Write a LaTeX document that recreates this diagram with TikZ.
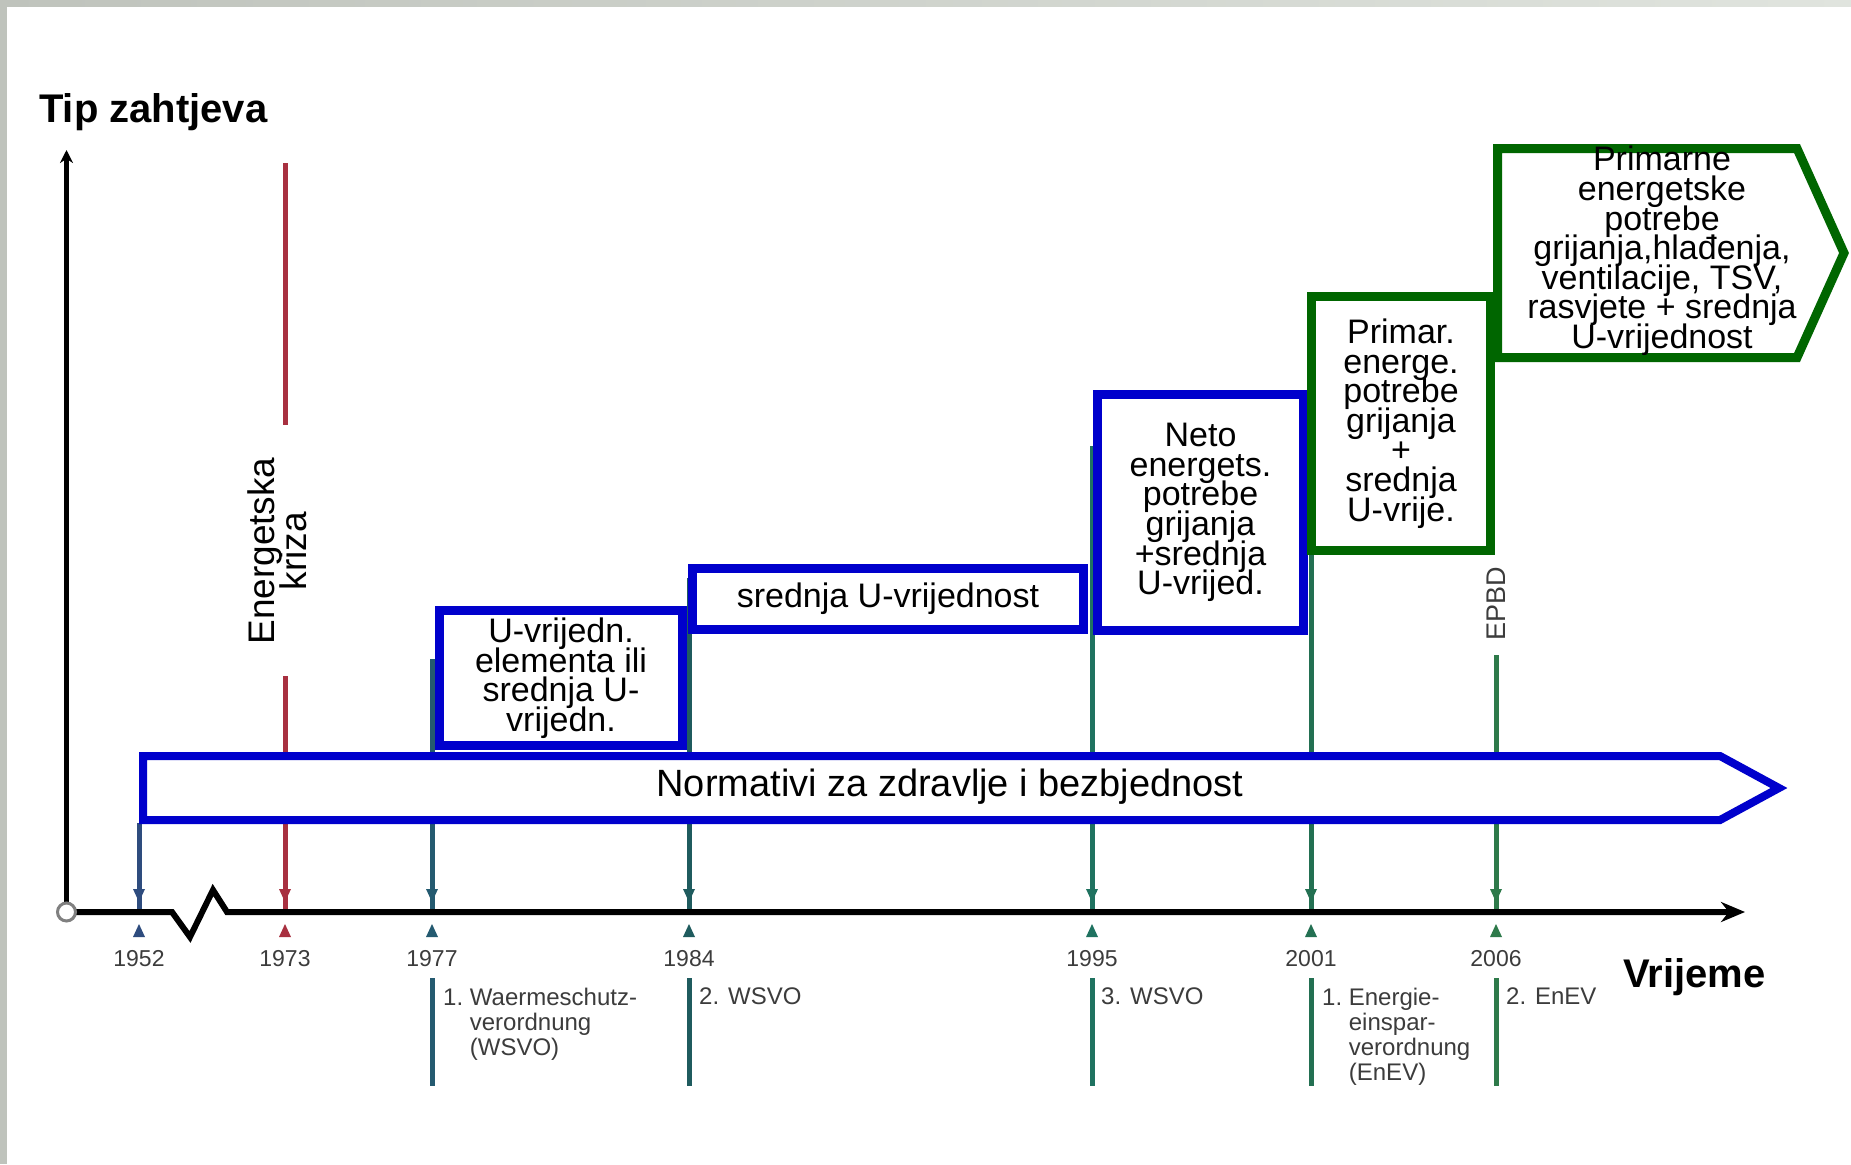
\documentclass[tikz,border=0pt]{standalone}
\usepackage{fontspec}
\setmainfont{Liberation Sans}
\usetikzlibrary{arrows.meta}
\definecolor{bblue}{HTML}{0000CC}
\definecolor{bgreen}{HTML}{006600}
\definecolor{labgray}{HTML}{3C3C3C}
\definecolor{framel}{HTML}{BFC3BC}
\definecolor{framer}{HTML}{E0E4DE}
\definecolor{c1952}{HTML}{2E4C7E}
\definecolor{c1973}{HTML}{A83040}
\definecolor{c1977}{HTML}{245A70}
\definecolor{c1984}{HTML}{1F5B5E}
\definecolor{c1995}{HTML}{1F7260}
\definecolor{c2001}{HTML}{237052}
\definecolor{c2006}{HTML}{2E7A4A}
\newcommand\mytightlines{\lineskiplimit -50pt\relax}
\newcommand\myboxfont{\fontsize{34}{29.6}\selectfont\mytightlines}
\begin{document}
\begin{tikzpicture}[x=1pt,y=-1pt,
  yrline/.style={line width=5pt},
  ybox/.style={draw=bblue, line width=9pt, fill=white, align=center, inner sep=0pt,
    font=\myboxfont},
  gbox/.style={ybox, draw=bgreen},
  boxtext/.style={align=center, inner sep=0pt, font=\myboxfont},
  yrlab/.style={font=\fontsize{23}{25}\selectfont, text=labgray, inner sep=0pt},
  desc/.style={font=\fontsize{24}{25}\selectfont, text=labgray, anchor=north west, inner sep=0pt},
  axislab/.style={font=\fontsize{40}{44}\selectfont\bfseries, anchor=base west, inner sep=0pt},
]
\useasboundingbox (0,0) rectangle (1851,1164);
\fill[white] (0,0) rectangle (1851,1164);
\shade[left color=framel, right color=framer] (0,0) rectangle (1851,7);
\fill[framel] (0,0) rectangle (7,1164);

% axis coordinates
\coordinate (orig) at (66.5,912);
\coordinate (ytop) at (66.5,150);
\coordinate (xend) at (1745,912);
\coordinate (t1952) at (139,912);
\coordinate (t1973) at (285,912);
\coordinate (t1977) at (432,912);
\coordinate (t1984) at (689,912);
\coordinate (t1995) at (1092,912);
\coordinate (t2001) at (1311,912);
\coordinate (t2006) at (1496,912);
\coordinate (u1952) at (139,823);
\coordinate (u1977) at (432,659);
\coordinate (u1984) at (689,578);
\coordinate (u1995) at (1092,446);
\coordinate (u2001) at (1311,550);
\coordinate (u2006) at (1496,655);
\coordinate (r1) at (285,163);
\coordinate (r2) at (285,425);
\coordinate (r3) at (285,676);

% year lines above the axis
\draw[yrline,c1952] (u1952) -- (t1952);
\draw[yrline,c1973] (r1) -- (r2);
\draw[yrline,c1973] (r3) -- (t1973);
\draw[yrline,c1977] (u1977) -- (t1977);
\draw[yrline,c1984] (u1984) -- (t1984);
\draw[yrline,c1995] (u1995) -- (t1995);
\draw[yrline,c2001] (u2001) -- (t2001);
\draw[yrline,c2006] (u2006) -- (t2006);

% year lines below the axis
\foreach \n in {1977,1984,1995,2001,2006}{
  \draw[yrline,c\n] ([shift={(0,66)}]t\n) -- ([shift={(0,174)}]t\n);
}

% band
\draw[bblue, line width=8pt, fill=white, line join=miter]
  (143,756) -- (1720,756) -- (1779,788) -- (1720,820) -- (143,820) -- cycle;
\node[boxtext, font=\fontsize{38}{40}\selectfont] (norm) at (950,787) {Normativi za zdravlje i bezbjednost};

% boxes
\node[ybox, minimum width=243pt, minimum height=135pt] (b1) at (561,678)
  {U-vrijedn.\\elementa ili\\srednja U-\\vrijedn.};
\node[ybox, minimum width=391pt, minimum height=61pt] (b2) at (888,599)
  {srednja U-vrijednost};
\node[ybox, minimum width=206pt, minimum height=236pt] (b3) at (1200.5,512.5)
  {Neto\\energets.\\potrebe\\grijanja\\+srednja\\U-vrijed.};
\node[gbox, minimum width=179pt, minimum height=254pt] (b4) at (1401,423.5)
  {Primar.\\energe.\\potrebe\\grijanja\\+\\srednja\\U-vrije.};

% green pentagon
\draw[bgreen, line width=9pt, fill=white, line join=miter]
  (1497.5,148.5) -- (1797,148.5) -- (1844,253) -- (1797,357.5) -- (1497.5,357.5) -- cycle;
\node[boxtext] (b5) at (1662,251)
  {Primarne\\energetske\\potrebe\\grijanja,hlađenja,\\ventilacije, TSV,\\rasvjete + srednja\\U-vrijednost};

% axes
\draw[line width=5pt, -{Stealth[length=13pt,width=13pt]}] (orig) -- (ytop);
\draw[line width=6pt, line join=miter, -{Stealth[length=24pt,width=20pt]}]
  (orig) -- (172,912) -- (190,937) -- (213,890) -- (227,912) -- (xend);
\draw[gray, line width=3pt, fill=white] (orig) circle (9);

% tick triangles
\foreach \n in {1952,1973,1977,1984,1995,2001,2006}{
  \fill[c\n] ([shift={(-6,-23)}]t\n) -- ([shift={(6,-23)}]t\n) -- ([shift={(0,-10)}]t\n) -- cycle;
  \fill[c\n] ([shift={(-6,25)}]t\n) -- ([shift={(6,25)}]t\n) -- ([shift={(0,12)}]t\n) -- cycle;
}

% year labels
\node[yrlab] (y1952) at (139,959) {1952};
\node[yrlab] (y1973) at (285,959) {1973};
\node[yrlab] (y1977) at (432,959) {1977};
\node[yrlab] (y1984) at (689,959) {1984};
\node[yrlab] (y1995) at (1092,959) {1995};
\node[yrlab] (y2001) at (1311,959) {2001};
\node[yrlab] (y2006) at (1496,959) {2006};

% descriptions
\node[desc] (d1977) at (443,988) {\begin{tabular}{@{}l@{~}l@{}}1. & Waermeschutz-\\ & verordnung\\ & (WSVO)\end{tabular}};
\node[desc] (d1984) at (699,988) {2. WSVO};
\node[desc] (d1995) at (1101,988) {3. WSVO};
\node[desc] (d2001) at (1322,988) {\begin{tabular}{@{}l@{~}l@{}}1. & Energie-\\ & einspar-\\ & verordnung\\ & (EnEV)\end{tabular}};
\node[desc] (d2006) at (1506,988) {2. EnEV};

% rotated labels
\node[rotate=90, align=center, inner sep=0pt, font=\fontsize{37}{32}\selectfont\mytightlines] (kriza) at (277,551) {Energetska\\kriza};
\node[rotate=90, inner sep=0pt, font=\fontsize{27}{30}\selectfont, text=labgray] (epbd) at (1496,604) {EPBD};

% axis titles
\node[axislab] (tip) at (39,122) {Tip zahtjeva};
\node[axislab] (vrijeme) at (1623,987) {Vrijeme};
\end{tikzpicture}
\end{document}
